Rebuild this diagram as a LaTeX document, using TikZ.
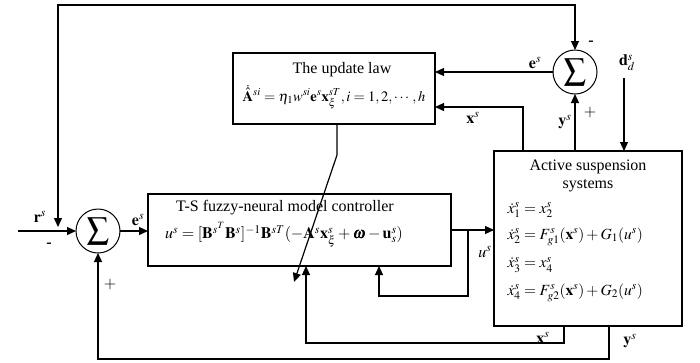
\documentclass[tikz,border=0pt]{standalone}
\usepackage{amsmath}
\usepackage{mathptmx}
\usepackage{bm}
\usepackage{fontspec}
\setmainfont{Liberation Serif}
\usetikzlibrary{arrows.meta}
\begin{document}
\begin{tikzpicture}[x=1pt,y=-1pt,line width=1.2pt,
  arr/.style={-{Triangle[length=9pt,width=8pt]}},
  darr/.style={{Triangle[length=9pt,width=8pt]}-{Triangle[length=9pt,width=8pt]}},
  blk/.style={draw,line width=1.2pt,inner sep=0pt,outer sep=0pt},
  sumnode/.style={circle,draw,line width=1pt,minimum size=44pt,inner sep=0pt,outer sep=0pt},
  txt/.style={inner sep=0pt,font=\fontsize{16}{19}\selectfont},
  lbl/.style={inner sep=0pt,font=\fontsize{16}{19}\selectfont}]
\useasboundingbox (0,0) rectangle (700,362);
% blocks
\node[blk,minimum width=202pt,minimum height=71pt] (ul) at (334,88.5) {};
\node[blk,minimum width=303pt,minimum height=72pt] (ctrl) at (299.5,230) {};
\node[blk,minimum width=188pt,minimum height=175pt] (as) at (588,238.5) {};
\node[sumnode] (s1) at (98,231) {\fontsize{22}{22}\selectfont$\displaystyle\sum$};
\node[sumnode] (s2) at (575,72) {\fontsize{22}{22}\selectfont$\displaystyle\sum$};
% texts in blocks
\node[txt] (ult) at (342,70) {The update law};
\node[txt,font=\fontsize{14.5}{17}\selectfont] (ulf) at (334,97) {$\dot{\hat{\mathbf{A}}}^{si}=\eta_1 w^{si}\mathbf{e}^s\mathbf{x}_{\xi}^{sT},i=1,2,\cdots,h$};
\node[txt] (ctt) at (285,208) {T-S fuzzy-neural model controller};
\node[txt] (ctf) at (284,235) {$u^s=[\mathbf{B}^{s^T}\mathbf{B}^s]^{-1}\mathbf{B}^{sT}(-\mathbf{A}^s\mathbf{x}_{\xi}^s+\bm{\omega}-\mathbf{u}_s^s)$};
\node[txt] (ast1) at (588,167) {Active suspension};
\node[txt] (ast2) at (588,186) {systems};
\node[txt,anchor=west,font=\fontsize{15.5}{18}\selectfont] (eq1) at (507,210) {$\dot{x}_1^s=x_2^s$};
\node[txt,anchor=west,font=\fontsize{15.5}{18}\selectfont] (eq2) at (507,237) {$\dot{x}_2^s=F_{g1}^s(\mathbf{x}^s)+G_1(u^s)$};
\node[txt,anchor=west,font=\fontsize{15.5}{18}\selectfont] (eq3) at (507,265) {$\dot{x}_3^s=x_4^s$};
\node[txt,anchor=west,font=\fontsize{15.5}{18}\selectfont] (eq4) at (507,293) {$\dot{x}_4^s=F_{g2}^s(\mathbf{x}^s)+G_2(u^s)$};
% coordinates
\coordinate (in) at (18,231);
\coordinate (rin) at (58,227);
\coordinate (tlL) at (58,5);
\coordinate (tlR) at (575,5);
\coordinate (br) at (468,230);
\coordinate (brd) at (468,296);
\coordinate (brl) at (379,296);
\coordinate (xtop) at (523,107);
\coordinate (dtop) at (624,78);
\coordinate (ulb) at (337,124);
\coordinate (ulk) at (337,155);
\coordinate (ulend) at (294,282);
\coordinate (xb1) at (564,326);
\coordinate (xb2) at (564,343);
\coordinate (xb3) at (306,343);
\coordinate (yb1) at (609,326);
\coordinate (yb2) at (609,359);
\coordinate (yb3) at (98,359);
% connectors
\draw[arr] (in) -- (s1.west);
\draw[arr] (s1.east) -- (ctrl.west |- s1.east);
\draw[arr] (ctrl.east) -- (as.west |- ctrl.east);
\draw[arr] (br) -- (brd) -- (brl) -- (brl |- ctrl.south);
\draw[darr] (rin) -- (tlL) -- (tlR) -- (s2.north);
\draw[arr] (s2.west) -- (ul.east |- s2.west);
\draw[arr] (xtop |- as.north) -- (xtop) -- (ul.east |- xtop);
\draw[arr] (s2.south |- as.north) -- (s2.south);
\draw[arr] (dtop) -- (dtop |- as.north);
\draw[arr] (ulb) -- (ulk) -- (ulend);
\draw[arr] (xb1) -- (xb2) -- (xb3) -- (xb3 |- ctrl.south);
\draw[arr] (yb1) -- (yb2) -- (yb3) -- (s1.south);
% labels
\node[lbl] (lr) at (40,217) {$\mathbf{r}^s$};
\node[lbl] (lm1) at (49,245) {\textbf{-}};
\node[lbl] (lp1) at (110,284) {$+$};
\node[lbl] (le1) at (138,220) {$\mathbf{e}^s$};
\node[lbl] (le2) at (535,63) {$\mathbf{e}^s$};
\node[lbl] (lm2) at (591,43) {\textbf{-}};
\node[lbl] (lp2) at (590,113) {$+$};
\node[lbl] (ly1) at (565,122) {$\mathbf{y}^s$};
\node[lbl] (ld) at (627,63) {$\mathbf{d}_d^s$};
\node[lbl] (lx1) at (473,118) {$\mathbf{x}^s$};
\node[lbl] (lu) at (485,252) {$u^s$};
\node[lbl] (lx2) at (543,338) {$\mathbf{x}^s$};
\node[lbl] (ly2) at (630,341) {$\mathbf{y}^s$};
\end{tikzpicture}
\end{document}
